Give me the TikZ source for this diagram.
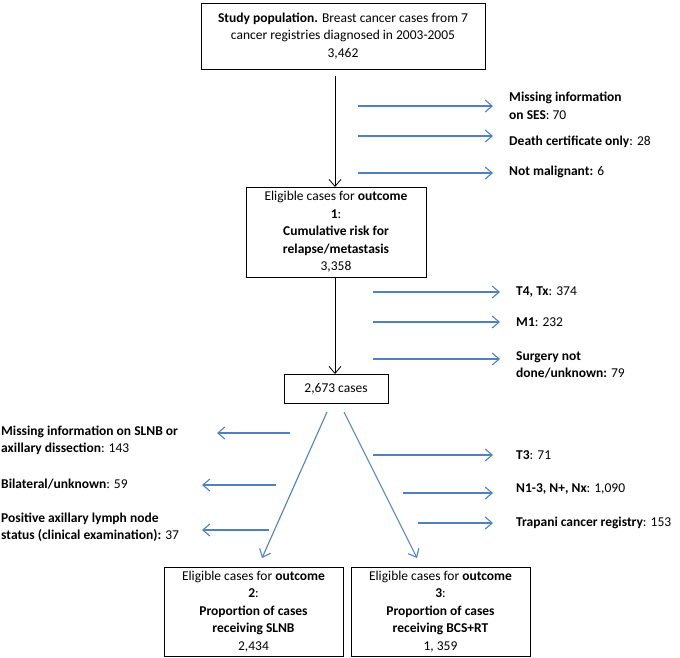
\documentclass[tikz,border=0pt]{standalone}
\usepackage{fontspec}
\setmainfont{Carlito}
\usetikzlibrary{arrows.meta}
\definecolor{arrblue}{RGB}{79,129,189}
\begin{document}
\begin{tikzpicture}[x=1pt,y=-1pt,
  font=\fontsize{13.5}{17.5}\selectfont,
  box/.style={draw=black,line width=0.9pt,align=center,inner sep=0pt},
  lbl/.style={anchor=west,align=left,inner sep=0pt},
  mainarr/.style={draw=black,line width=0.8pt,-{Straight Barb[length=7pt,width=12pt]}},
  bluearr/.style={draw=arrblue,line width=1.1pt,-{Straight Barb[length=7pt,width=12pt]}}
]
\useasboundingbox (0,0) rectangle (680,657);

% boxes
\node[box,minimum width=284pt,minimum height=66pt] (b1) at (343,36)
  {\textbf{Study population.} Breast cancer cases from 7\\cancer registries diagnosed in 2003-2005\\3,462};
\node[box,minimum width=180pt,minimum height=90pt] (b2) at (336,232)
  {Eligible cases for \textbf{outcome}\\\textbf{1}:\\\textbf{Cumulative risk for}\\\textbf{relapse/metastasis}\\3,358};
\node[box,minimum width=104pt,minimum height=29pt] (b3) at (336,388.5) {2,673 cases};
\node[box,minimum width=179pt,minimum height=89pt] (b4) at (253.5,611.5)
  {Eligible cases for \textbf{outcome}\\\textbf{2}:\\\textbf{Proportion of cases}\\\textbf{receiving SLNB}\\2,434};
\node[box,minimum width=179pt,minimum height=89pt] (b5) at (440.5,611.5)
  {Eligible cases for \textbf{outcome}\\\textbf{3}:\\\textbf{Proportion of cases}\\\textbf{receiving BCS+RT}\\1, 359};

% main arrows
\coordinate (a1s) at (335,76);
\coordinate (a1e) at (335,187);
\draw[mainarr] (a1s) -- (a1e);
\coordinate (a2s) at (335,277);
\coordinate (a2e) at (335,374);
\draw[mainarr] (a2s) -- (a2e);
\coordinate (dls) at (327,412);
\coordinate (dle) at (262,558);
\coordinate (drs) at (344,412);
\coordinate (dre) at (417,558);
\draw[bluearr] (dls) -- (dle);
\draw[bluearr] (drs) -- (dre);

% right labels, first group
\node[lbl] (r1) at (509,106) {\textbf{Missing information}\\\textbf{on SES}: 70};
\node[lbl] (r2) at (509,142) {\textbf{Death certificate only}: 28};
\node[lbl] (r3) at (509,172) {\textbf{Not malignant:} 6};
\coordinate (r1s) at (358,106); \coordinate (r1e) at (493,106);
\coordinate (r2s) at (358,136); \coordinate (r2e) at (493,136);
\coordinate (r3s) at (358,173); \coordinate (r3e) at (493,173);
\draw[bluearr] (r1s) -- (r1e);
\draw[bluearr] (r2s) -- (r2e);
\draw[bluearr] (r3s) -- (r3e);

% right labels, second group
\node[lbl] (r4) at (516,292) {\textbf{T4, Tx}: 374};
\node[lbl] (r5) at (516,322) {\textbf{M1}: 232};
\node[lbl] (r6) at (516,365) {\textbf{Surgery not}\\\textbf{done/unknown:} 79};
\coordinate (r4s) at (373,292); \coordinate (r4e) at (500,292);
\coordinate (r5s) at (373,322); \coordinate (r5e) at (500,322);
\coordinate (r6s) at (373,359); \coordinate (r6e) at (500,359);
\draw[bluearr] (r4s) -- (r4e);
\draw[bluearr] (r5s) -- (r5e);
\draw[bluearr] (r6s) -- (r6e);

% right labels, third group
\node[lbl] (r7) at (516,455) {\textbf{T3}: 71};
\node[lbl] (r8) at (516,489) {\textbf{N1-3, N+, Nx}: 1,090};
\node[lbl] (r9) at (516,523) {\textbf{Trapani cancer registry}: 153};
\coordinate (r7s) at (373,455); \coordinate (r7e) at (493,455);
\coordinate (r8s) at (403,493); \coordinate (r8e) at (493,493);
\coordinate (r9s) at (418,523); \coordinate (r9e) at (493,523);
\draw[bluearr] (r7s) -- (r7e);
\draw[bluearr] (r8s) -- (r8e);
\draw[bluearr] (r9s) -- (r9e);

% left labels
\node[lbl] (l1) at (1,440.5) {\textbf{Missing information on SLNB or}\\\textbf{axillary dissection}: 143};
\node[lbl] (l2) at (1,484) {\textbf{Bilateral/unknown}: 59};
\node[lbl] (l3) at (1,527.5) {\textbf{Positive axillary lymph node}\\\textbf{status (clinical examination):} 37};
\coordinate (l1s) at (290,433); \coordinate (l1e) at (217,433);
\coordinate (l2s) at (276,485); \coordinate (l2e) at (202,485);
\coordinate (l3s) at (269,530); \coordinate (l3e) at (202,530);
\draw[bluearr] (l1s) -- (l1e);
\draw[bluearr] (l2s) -- (l2e);
\draw[bluearr] (l3s) -- (l3e);
\end{tikzpicture}
\end{document}
